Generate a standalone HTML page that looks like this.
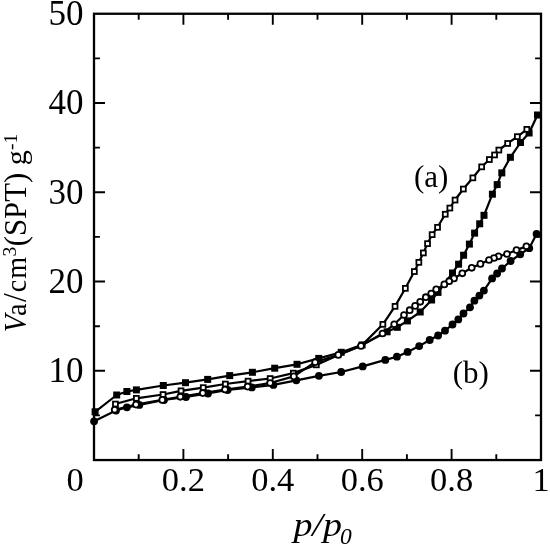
<!DOCTYPE html>
<html lang="en"><head><meta charset="utf-8"><title>Adsorption isotherms</title>
<style>html,body{margin:0;padding:0;background:#fff}svg{display:block}text{font-family:"Liberation Serif","Times New Roman",serif;fill:#000}</style>
</head><body>
<svg width="550" height="546" viewBox="0 0 550 546">
<rect x="0" y="0" width="550" height="546" fill="#fff"/>
<rect x="94.0" y="13.75" width="447.0" height="446.3" fill="none" stroke="#000" stroke-width="2.3"/>
<path d="M138.7 460.05v-5.9M138.7 13.75v5.9M183.4 460.05v-11.0M183.4 13.75v11.0M228.1 460.05v-5.9M228.1 13.75v5.9M272.8 460.05v-11.0M272.8 13.75v11.0M317.5 460.05v-5.9M317.5 13.75v5.9M362.2 460.05v-11.0M362.2 13.75v11.0M406.9 460.05v-5.9M406.9 13.75v5.9M451.6 460.05v-11.0M451.6 13.75v11.0M496.3 460.05v-5.9M496.3 13.75v5.9M94.0 415.4h5.9M541.0 415.4h-5.9M94.0 370.8h11.0M541.0 370.8h-11.0M94.0 326.2h5.9M541.0 326.2h-5.9M94.0 281.5h11.0M541.0 281.5h-11.0M94.0 236.9h5.9M541.0 236.9h-5.9M94.0 192.3h11.0M541.0 192.3h-11.0M94.0 147.6h5.9M541.0 147.6h-5.9M94.0 103.0h11.0M541.0 103.0h-11.0M94.0 58.4h5.9M541.0 58.4h-5.9" stroke="#000" stroke-width="1.9" fill="none"/>
<polyline points="95.1,411.8 116.7,395.0 126.9,391.5 136.4,389.9 163.3,385.5 185.5,382.7 207.7,379.4 229.7,375.6 252.4,372.3 274.7,368.2 297.0,364.3 318.7,358.4 341.2,352.3 362.1,344.9 387.1,331.8 397.3,327.3 407.4,320.9 420.2,312.0 431.6,300.0 438.0,292.4 452.5,273.0 458.6,264.2 463.6,255.2 469.4,244.1 474.6,233.1 479.7,223.8 484.0,215.3 492.4,194.2 497.2,184.6 501.8,172.9 510.4,157.3 520.5,142.5 529.1,133.0 537.5,115.0" fill="none" stroke="#000" stroke-width="2.2" stroke-linejoin="round"/>
<polyline points="526.9,129.3 517.4,136.6 507.7,143.4 498.9,150.0 494.5,154.9 489.4,159.5 481.7,166.8 472.9,177.8 463.3,189.0 455.0,200.0 449.8,208.0 445.2,214.2 437.5,227.3 432.1,234.6 427.5,243.7 423.3,252.9 418.9,262.4 414.3,271.5 405.4,288.3 395.0,306.4 382.9,324.3 361.6,345.6 339.6,354.4 316.3,364.9 293.3,373.1 270.1,378.5 248.0,381.1 225.3,384.0 203.2,387.6 181.0,390.8 163.0,394.5 136.3,398.3 115.4,404.0" fill="none" stroke="#000" stroke-width="2.2" stroke-linejoin="round"/>
<polyline points="94.1,421.3 116.0,410.5 126.9,407.3 139.3,404.9 164.0,400.0 186.0,397.0 208.0,393.5 227.6,390.0 251.8,387.4 273.4,384.9 296.3,380.3 318.9,375.8 341.2,372.0 362.7,366.4 385.3,359.9 396.9,356.7 407.6,351.9 419.2,346.1 429.7,340.0 438.1,335.5 445.0,330.7 452.5,324.5 458.3,319.4 463.5,313.5 470.0,307.3 474.4,300.7 479.4,295.6 483.9,290.6 492.1,278.4 497.1,273.5 502.0,268.5 510.6,261.0 520.2,254.3 529.2,248.2 536.6,233.9" fill="none" stroke="#000" stroke-width="2.2" stroke-linejoin="round"/>
<polyline points="526.4,246.3 516.5,250.1 507.0,254.0 498.5,256.3 494.0,258.0 489.0,260.0 480.4,263.9 471.7,267.8 462.3,273.3 454.0,278.4 449.2,281.2 444.3,284.4 436.2,289.4 431.2,293.5 425.8,297.2 420.2,301.8 415.1,305.9 409.7,310.2 404.0,315.0 394.2,324.3 382.5,333.5 361.0,345.9 338.3,354.9 315.1,362.2 293.8,376.4 270.1,383.0 247.6,386.6 225.0,389.5 202.8,393.1 180.3,396.8 162.3,399.9 136.0,404.6 114.7,409.8" fill="none" stroke="#000" stroke-width="2.2" stroke-linejoin="round"/>
<g fill="#000">
<rect x="91.6" y="408.3" width="7.0" height="7.0"/>
<rect x="113.2" y="391.5" width="7.0" height="7.0"/>
<rect x="123.4" y="388.0" width="7.0" height="7.0"/>
<rect x="132.9" y="386.4" width="7.0" height="7.0"/>
<rect x="159.8" y="382.0" width="7.0" height="7.0"/>
<rect x="182.0" y="379.2" width="7.0" height="7.0"/>
<rect x="204.2" y="375.9" width="7.0" height="7.0"/>
<rect x="226.2" y="372.1" width="7.0" height="7.0"/>
<rect x="248.9" y="368.8" width="7.0" height="7.0"/>
<rect x="271.2" y="364.7" width="7.0" height="7.0"/>
<rect x="293.5" y="360.8" width="7.0" height="7.0"/>
<rect x="315.2" y="354.9" width="7.0" height="7.0"/>
<rect x="337.7" y="348.8" width="7.0" height="7.0"/>
<rect x="358.6" y="341.4" width="7.0" height="7.0"/>
<rect x="383.6" y="328.3" width="7.0" height="7.0"/>
<rect x="393.8" y="323.8" width="7.0" height="7.0"/>
<rect x="403.9" y="317.4" width="7.0" height="7.0"/>
<rect x="416.7" y="308.5" width="7.0" height="7.0"/>
<rect x="428.1" y="296.5" width="7.0" height="7.0"/>
<rect x="434.5" y="288.9" width="7.0" height="7.0"/>
<rect x="449.0" y="269.5" width="7.0" height="7.0"/>
<rect x="455.1" y="260.7" width="7.0" height="7.0"/>
<rect x="460.1" y="251.7" width="7.0" height="7.0"/>
<rect x="465.9" y="240.6" width="7.0" height="7.0"/>
<rect x="471.1" y="229.6" width="7.0" height="7.0"/>
<rect x="476.2" y="220.3" width="7.0" height="7.0"/>
<rect x="480.5" y="211.8" width="7.0" height="7.0"/>
<rect x="488.9" y="190.7" width="7.0" height="7.0"/>
<rect x="493.7" y="181.1" width="7.0" height="7.0"/>
<rect x="498.3" y="169.4" width="7.0" height="7.0"/>
<rect x="506.9" y="153.8" width="7.0" height="7.0"/>
<rect x="517.0" y="139.0" width="7.0" height="7.0"/>
<rect x="525.6" y="129.5" width="7.0" height="7.0"/>
<rect x="534.0" y="111.5" width="7.0" height="7.0"/>
<circle cx="94.1" cy="421.3" r="3.9"/>
<circle cx="116.0" cy="410.5" r="3.9"/>
<circle cx="126.9" cy="407.3" r="3.9"/>
<circle cx="139.3" cy="404.9" r="3.9"/>
<circle cx="164.0" cy="400.0" r="3.9"/>
<circle cx="186.0" cy="397.0" r="3.9"/>
<circle cx="208.0" cy="393.5" r="3.9"/>
<circle cx="227.6" cy="390.0" r="3.9"/>
<circle cx="251.8" cy="387.4" r="3.9"/>
<circle cx="273.4" cy="384.9" r="3.9"/>
<circle cx="296.3" cy="380.3" r="3.9"/>
<circle cx="318.9" cy="375.8" r="3.9"/>
<circle cx="341.2" cy="372.0" r="3.9"/>
<circle cx="362.7" cy="366.4" r="3.9"/>
<circle cx="385.3" cy="359.9" r="3.9"/>
<circle cx="396.9" cy="356.7" r="3.9"/>
<circle cx="407.6" cy="351.9" r="3.9"/>
<circle cx="419.2" cy="346.1" r="3.9"/>
<circle cx="429.7" cy="340.0" r="3.9"/>
<circle cx="438.1" cy="335.5" r="3.9"/>
<circle cx="445.0" cy="330.7" r="3.9"/>
<circle cx="452.5" cy="324.5" r="3.9"/>
<circle cx="458.3" cy="319.4" r="3.9"/>
<circle cx="463.5" cy="313.5" r="3.9"/>
<circle cx="470.0" cy="307.3" r="3.9"/>
<circle cx="474.4" cy="300.7" r="3.9"/>
<circle cx="479.4" cy="295.6" r="3.9"/>
<circle cx="483.9" cy="290.6" r="3.9"/>
<circle cx="492.1" cy="278.4" r="3.9"/>
<circle cx="497.1" cy="273.5" r="3.9"/>
<circle cx="502.0" cy="268.5" r="3.9"/>
<circle cx="510.6" cy="261.0" r="3.9"/>
<circle cx="520.2" cy="254.3" r="3.9"/>
<circle cx="529.2" cy="248.2" r="3.9"/>
<circle cx="536.6" cy="233.9" r="3.9"/>
</g>
<g fill="#fff" stroke="#000" stroke-width="1.8">
<rect x="524.4" y="126.9" width="4.9" height="4.9"/>
<rect x="514.9" y="134.2" width="4.9" height="4.9"/>
<rect x="505.2" y="141.0" width="4.9" height="4.9"/>
<rect x="496.4" y="147.6" width="4.9" height="4.9"/>
<rect x="492.1" y="152.5" width="4.9" height="4.9"/>
<rect x="486.9" y="157.1" width="4.9" height="4.9"/>
<rect x="479.2" y="164.4" width="4.9" height="4.9"/>
<rect x="470.4" y="175.4" width="4.9" height="4.9"/>
<rect x="460.9" y="186.6" width="4.9" height="4.9"/>
<rect x="452.6" y="197.6" width="4.9" height="4.9"/>
<rect x="447.4" y="205.6" width="4.9" height="4.9"/>
<rect x="442.8" y="211.8" width="4.9" height="4.9"/>
<rect x="435.1" y="224.9" width="4.9" height="4.9"/>
<rect x="429.7" y="232.2" width="4.9" height="4.9"/>
<rect x="425.1" y="241.2" width="4.9" height="4.9"/>
<rect x="420.9" y="250.5" width="4.9" height="4.9"/>
<rect x="416.4" y="259.9" width="4.9" height="4.9"/>
<rect x="411.9" y="269.1" width="4.9" height="4.9"/>
<rect x="402.9" y="285.9" width="4.9" height="4.9"/>
<rect x="392.6" y="303.9" width="4.9" height="4.9"/>
<rect x="380.4" y="321.9" width="4.9" height="4.9"/>
<rect x="313.9" y="362.4" width="4.9" height="4.9"/>
<rect x="290.9" y="370.7" width="4.9" height="4.9"/>
<rect x="267.7" y="376.1" width="4.9" height="4.9"/>
<rect x="245.6" y="378.7" width="4.9" height="4.9"/>
<rect x="222.9" y="381.6" width="4.9" height="4.9"/>
<rect x="200.8" y="385.2" width="4.9" height="4.9"/>
<rect x="178.6" y="388.4" width="4.9" height="4.9"/>
<rect x="160.6" y="392.1" width="4.9" height="4.9"/>
<rect x="133.9" y="395.9" width="4.9" height="4.9"/>
<rect x="113.0" y="401.6" width="4.9" height="4.9"/>
<circle cx="526.4" cy="246.3" r="2.95"/>
<circle cx="516.5" cy="250.1" r="2.95"/>
<circle cx="507.0" cy="254.0" r="2.95"/>
<circle cx="498.5" cy="256.3" r="2.95"/>
<circle cx="494.0" cy="258.0" r="2.95"/>
<circle cx="489.0" cy="260.0" r="2.95"/>
<circle cx="480.4" cy="263.9" r="2.95"/>
<circle cx="471.7" cy="267.8" r="2.95"/>
<circle cx="462.3" cy="273.3" r="2.95"/>
<circle cx="454.0" cy="278.4" r="2.95"/>
<circle cx="449.2" cy="281.2" r="2.95"/>
<circle cx="444.3" cy="284.4" r="2.95"/>
<circle cx="436.2" cy="289.4" r="2.95"/>
<circle cx="431.2" cy="293.5" r="2.95"/>
<circle cx="425.8" cy="297.2" r="2.95"/>
<circle cx="420.2" cy="301.8" r="2.95"/>
<circle cx="415.1" cy="305.9" r="2.95"/>
<circle cx="409.7" cy="310.2" r="2.95"/>
<circle cx="404.0" cy="315.0" r="2.95"/>
<circle cx="394.2" cy="324.3" r="2.95"/>
<circle cx="382.5" cy="333.5" r="2.95"/>
<circle cx="361.0" cy="345.9" r="2.95"/>
<circle cx="338.3" cy="354.9" r="2.95"/>
<circle cx="315.1" cy="362.2" r="2.95"/>
<circle cx="293.8" cy="376.4" r="2.95"/>
<circle cx="270.1" cy="383.0" r="2.95"/>
<circle cx="247.6" cy="386.6" r="2.95"/>
<circle cx="225.0" cy="389.5" r="2.95"/>
<circle cx="202.8" cy="393.1" r="2.95"/>
<circle cx="180.3" cy="396.8" r="2.95"/>
<circle cx="162.3" cy="399.9" r="2.95"/>
<circle cx="136.0" cy="404.6" r="2.95"/>
<circle cx="114.7" cy="409.8" r="2.95"/>
</g>
<g font-size="35px" text-anchor="end">
<text x="83.6" y="25.1">50</text>
<text x="83.6" y="114.3">40</text>
<text x="83.6" y="203.6">30</text>
<text x="83.6" y="292.8">20</text>
<text x="83.6" y="382.1">10</text>
</g>
<g font-size="34.5px" text-anchor="middle">
<text x="75.0" y="491.1">0</text>
<text x="183.4" y="491.1">0.2</text>
<text x="272.8" y="491.1">0.4</text>
<text x="362.2" y="491.1">0.6</text>
<text x="451.6" y="491.1">0.8</text>
<text x="541.0" y="491.1">1</text>
</g>
<text x="414" y="187" font-size="31px">(a)</text>
<text x="452.8" y="383" font-size="31px">(b)</text>
<text transform="translate(293.4,536) scale(1.1,1)" font-size="34.5px" font-style="italic">p/p</text>
<text x="340" y="544.2" font-size="23.5px" font-style="italic">0</text>
<g transform="translate(26.2,331) rotate(-90)">
<text transform="translate(-1.3,0) scale(1,1.13)" font-size="28.5px" font-style="italic">V</text>
<text transform="translate(15,0) scale(1,1.08)" font-size="28px" letter-spacing="1.1">a<tspan dx="0.6" font-size="31.5px">/</tspan><tspan dx="-0.3">cm</tspan></text>
<text x="74.6" y="-9.8" font-size="19.5px">3</text>
<text x="84.7" y="0" font-size="30.75px">(SPT)</text>
<text x="165.8" y="0" font-size="30px">g</text>
<text x="181" y="-9.4" font-size="19.5px">-1</text>
</g>
</svg>
</body></html>
